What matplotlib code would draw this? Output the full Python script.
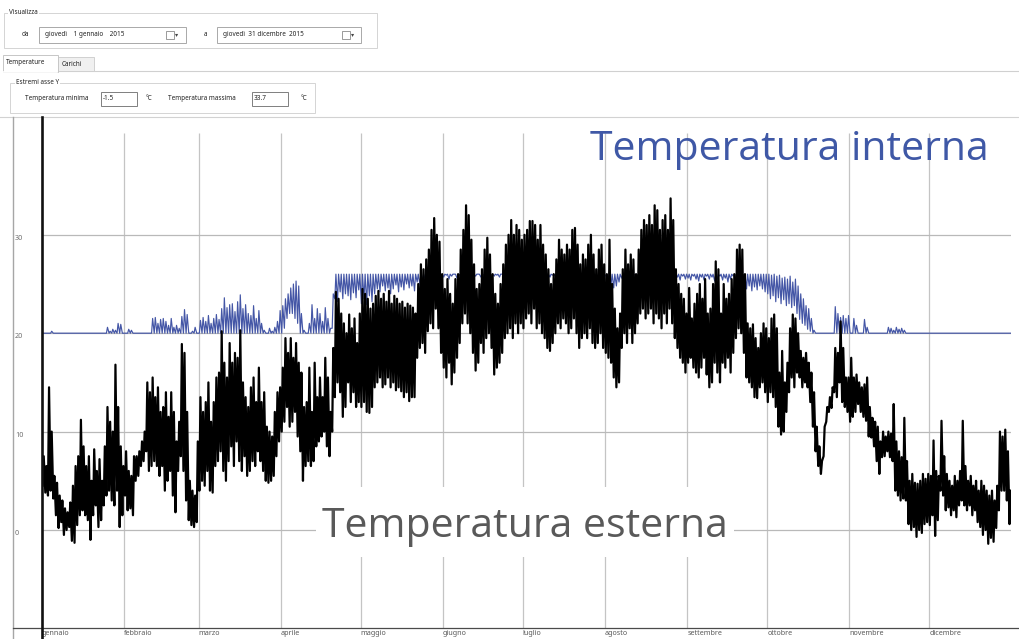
import numpy as np
import matplotlib
matplotlib.use("Agg")
import matplotlib.pyplot as plt
from matplotlib.patches import Rectangle

# ---------------------------------------------------------------- data
month_names = ["gennaio", "febbraio", "marzo", "aprile", "maggio", "giugno",
               "luglio", "agosto", "settembre", "ottobre", "novembre", "dicembre"]
month_start = [0, 31, 59, 90, 120, 151, 181, 212, 243, 273, 304, 334]
y_ticks = [0, 10, 20, 30]

# outdoor temperature, daily minimum / maximum (°C), 2015
ext_lo = (
    [4.5, 3.8, 3.5, 4.0, 3.2, 1.5, 0.2, 0.8, -0.5, 0.0, 0.3, -1.1, -1.3, 0.5, 1.5, 2.0,
     1.5, 1.0, -1.0, 1.5, 2.5, 0.3, 1.0, 2.5, 3.5, 4.0, 3.0, 2.5, 4.0, 0.3, 1.5]
    + [3.5, 2.0, 2.2, 1.5, 5.0, 5.5, 6.5, 7.0, 8.0, 6.0, 6.5, 7.0, 6.5, 5.5, 6.5, 4.0,
       5.0, 6.0, 3.5, 1.8, 6.0, 7.5, 6.0, 3.0, 1.0, 0.5, 0.3, 0.8]
    + [4.0, 5.0, 4.5, 6.0, 4.0, 3.8, 6.5, 7.0, 8.0, 6.0, 5.0, 7.0, 8.5, 6.5, 9.0, 7.0,
       6.0, 7.5, 5.5, 6.0, 7.0, 6.5, 8.0, 7.0, 6.0, 5.0, 4.8, 5.0, 5.5, 7.5, 9.0]
    + [10.0, 11.0, 12.5, 10.5, 11.0, 12.0, 9.5, 8.0, 5.0, 6.5, 7.0, 6.5, 7.0, 8.5, 9.0,
       9.5, 10.0, 8.5, 7.5, 10.0, 13.5, 15.0, 14.0, 11.5, 12.5, 15.0, 13.0, 14.0, 12.5, 13.0]
    + [12.5, 13.0, 12.0, 11.9, 12.5, 14.5, 15.0, 15.5, 14.5, 14.8, 15.5, 14.5, 15.0, 14.2,
       14.5, 14.1, 13.5, 14.0, 13.1, 13.5, 13.5, 17.5, 18.5, 19.0, 18.0, 20.2, 21.0, 20.5,
       22.5, 20.5, 18.0]
    + [16.5, 15.5, 17.0, 14.8, 16.0, 17.5, 19.0, 21.0, 22.0, 21.0, 20.0, 18.0, 16.2, 17.0,
       19.0, 18.0, 19.5, 20.0, 18.5, 15.8, 16.5, 17.0, 18.0, 19.5, 20.0, 20.5, 19.5, 21.0,
       20.0, 21.0]
    + [20.5, 21.5, 22.0, 21.0, 22.5, 20.5, 21.0, 20.0, 19.5, 18.5, 18.2, 19.0, 20.0, 21.0,
       20.5, 21.5, 21.0, 20.0, 20.5, 21.5, 20.0, 18.5, 19.5, 20.0, 19.5, 20.5, 19.0, 18.5,
       19.0, 20.0, 18.5]
    + [18.0, 17.5, 17.0, 15.5, 14.5, 15.0, 18.5, 20.0, 19.0, 20.5, 19.0, 20.0, 21.0, 22.0,
       22.5, 21.5, 22.0, 22.5, 21.0, 22.0, 21.5, 20.5, 22.0, 21.0, 22.5, 21.0, 19.5, 18.5,
       17.5, 17.0, 16.0]
    + [17.0, 17.5, 16.5, 16.0, 15.5, 16.5, 17.5, 15.8, 14.5, 15.0, 17.0, 16.0, 15.0, 17.0,
       16.5, 17.5, 16.0, 18.0, 19.5, 20.5, 20.0, 18.0, 15.5, 15.0, 14.5, 13.5, 13.4, 14.5,
       15.0, 14.0]
    + [13.0, 14.0, 13.5, 12.5, 10.5, 9.7, 10.0, 12.0, 14.0, 15.5, 14.5, 16.0, 15.5, 14.5,
       15.0, 14.5, 13.0, 10.5, 8.0, 6.5, 5.7, 7.5, 11.0, 12.0, 12.4, 14.0, 13.5, 15.0, 13.0,
       12.5, 12.0]
    + [11.0, 11.5, 12.0, 12.8, 12.0, 11.5, 11.1, 9.5, 9.4, 8.5, 7.0, 5.7, 7.4, 7.5, 8.0,
       7.4, 7.0, 4.0, 3.5, 3.0, 3.2, 3.0, 0.6, 0.0, 0.3, -0.7, 0.0, -0.3, 0.6, 0.8]
    + [0.5, 1.5, -0.6, 1.0, 4.0, 3.5, 2.0, 2.3, 1.5, 2.0, 1.3, 2.5, 3.0, 2.5, 2.0, 2.5,
       1.5, 2.0, 0.8, 0.3, -0.5, 0.0, -1.4, -0.8, -1.2, 0.2, 2.0, 4.0, 4.0, 3.0, 0.6]
)
ext_hi = (
    [7.5, 6.5, 14.5, 10.0, 5.5, 4.8, 3.5, 3.0, 2.2, 1.8, 2.8, 4.5, 6.5, 7.5, 11.2, 8.5,
     6.5, 7.5, 5.0, 8.2, 6.0, 7.2, 5.0, 8.5, 12.5, 11.0, 10.0, 16.8, 12.5, 8.5, 6.5]
    + [8.0, 6.0, 5.5, 7.5, 7.5, 8.0, 9.0, 10.0, 15.0, 14.0, 15.5, 13.5, 14.5, 12.0, 12.5,
       14.0, 11.5, 14.0, 12.0, 9.0, 11.0, 18.9, 18.0, 12.0, 5.0, 4.0, 3.5, 9.0]
    + [13.5, 12.0, 13.0, 15.0, 11.0, 13.0, 15.5, 16.0, 20.2, 17.0, 15.5, 19.0, 17.0, 18.0,
       17.5, 20.3, 15.0, 13.5, 12.5, 14.5, 15.5, 13.0, 16.5, 13.0, 14.0, 10.5, 10.0, 9.5,
       12.0, 14.0, 14.5]
    + [16.5, 19.5, 18.0, 19.5, 17.5, 19.0, 17.0, 16.0, 12.5, 13.0, 16.5, 12.0, 17.0, 13.5,
       15.5, 13.5, 17.5, 15.5, 12.0, 18.5, 24.2, 23.5, 22.0, 21.0, 20.0, 21.9, 20.5, 21.5,
       19.0, 22.0]
    + [24.5, 24.0, 23.5, 22.5, 23.0, 23.8, 24.3, 23.5, 24.0, 23.2, 24.3, 23.0, 23.8, 23.5,
       23.0, 23.2, 22.6, 23.0, 22.8, 22.6, 22.0, 25.0, 27.0, 26.5, 27.5, 28.5, 30.5, 31.7,
       30.0, 29.3, 26.0]
    + [24.5, 25.5, 24.0, 23.0, 25.5, 26.0, 28.5, 30.5, 33.0, 32.0, 29.5, 27.0, 24.5, 25.0,
       26.5, 28.5, 29.7, 28.0, 26.0, 24.0, 23.0, 25.0, 27.0, 29.0, 30.0, 31.5, 30.0, 31.0,
       30.5, 29.5]
    + [30.0, 30.5, 31.4, 31.4, 31.0, 29.5, 31.0, 29.0, 28.0, 26.5, 25.0, 26.0, 27.5, 29.5,
       28.5, 28.0, 29.0, 28.5, 30.5, 30.7, 29.0, 27.0, 28.0, 27.5, 29.0, 30.0, 28.0, 26.5,
       28.5, 29.0, 27.0]
    + [26.0, 29.5, 25.0, 22.5, 20.5, 22.0, 26.5, 28.5, 27.0, 28.0, 27.5, 26.0, 28.5, 30.5,
       31.5, 31.0, 32.0, 31.0, 33.0, 32.5, 30.5, 31.5, 32.0, 30.5, 33.7, 31.5, 26.5, 25.0,
       24.0, 23.5, 22.0]
    + [24.6, 21.5, 23.0, 24.0, 25.0, 23.5, 25.5, 22.0, 22.5, 25.0, 27.3, 26.5, 22.0, 25.0,
       23.5, 24.0, 25.5, 26.0, 28.5, 29.0, 28.5, 26.0, 21.0, 20.5, 20.9, 19.5, 18.5, 20.0,
       21.0, 20.5]
    + [19.5, 21.5, 21.9, 20.5, 16.0, 18.2, 15.0, 17.0, 20.5, 21.9, 21.5, 20.0, 18.2, 17.5,
       18.0, 17.0, 16.0, 14.0, 10.5, 8.5, 7.0, 10.5, 12.5, 13.5, 14.5, 18.5, 18.0, 21.2,
       18.5, 15.5, 15.5]
    + [17.5, 15.5, 15.8, 15.0, 14.5, 14.8, 15.5, 12.5, 11.4, 11.0, 10.5, 9.0, 10.0, 9.5,
       10.0, 9.8, 12.8, 9.0, 8.0, 7.4, 11.4, 7.0, 5.0, 5.7, 4.8, 4.7, 5.0, 5.7, 5.2, 5.7]
    + [5.5, 9.1, 6.0, 5.5, 11.1, 7.5, 5.7, 5.0, 4.5, 5.5, 5.0, 6.0, 11.1, 6.5, 5.0, 5.5,
       4.5, 5.0, 4.0, 5.0, 4.5, 4.0, 3.5, 4.0, 3.0, 4.5, 10.0, 9.5, 10.2, 8.0, 4.0]
)

# indoor temperature, daily minimum / maximum (°C)
int_lo = (
    [20.0] * 31 + [20.0] * 28 + [20.0] * 31
    + [20.0, 20.5, 21.5, 22.0, 22.0, 21.5, 21.0, 20.0, 20.0, 20.0] + [20.0] * 9 + [20.5]
    + [23.5, 23.2, 24.2, 23.5, 24.0, 23.8, 23.4, 24.1, 23.6, 24.4]
    + [23.0, 23.5, 22.9, 23.8, 23.2, 24.0, 24.5, 24.2, 24.8, 24.3, 24.6, 24.0, 24.5, 24.9,
       24.2, 24.7, 24.4, 25.0, 24.6, 24.8, 24.3, 25.2, 25.0, 25.4, 25.5, 25.2, 25.6, 25.5,
       25.7, 25.5, 25.4]
    + [25.7, 25.9, 25.5, 25.8, 26.0, 25.6, 25.9, 26.0, 25.8, 25.7, 25.9, 25.4, 25.8, 26.0,
       25.7, 25.9, 25.8, 26.0, 25.5, 25.8, 25.9, 25.7, 26.0, 25.8, 25.9, 25.6, 26.0, 25.8,
       25.9, 25.7]
    + [25.8, 26.0, 25.9, 25.6, 26.0, 25.8, 25.9, 25.5, 25.8, 26.0, 25.7, 25.9, 25.8, 26.0,
       25.6, 25.9, 25.8, 26.0, 25.9, 25.7, 25.8, 26.0, 25.5, 25.9, 25.8, 26.0, 25.7, 25.9,
       25.8, 26.0, 25.8]
    + [25.8, 25.6, 25.0, 24.6, 24.8, 25.2, 25.6, 25.9, 25.8, 26.0, 25.7, 25.9, 25.8, 26.0,
       25.9, 25.8, 26.0, 25.9, 25.8, 26.0, 25.9, 25.8, 26.0, 25.9, 25.7, 25.8, 25.5, 25.7,
       25.4, 25.8, 25.5]
    + [25.6, 25.4, 25.8, 25.5, 25.3, 25.7, 25.4, 25.8, 25.5, 25.7, 25.3, 25.5, 25.8, 25.4,
       25.6, 25.2, 25.5, 25.8, 25.4, 25.6, 25.2, 24.9, 24.5, 24.8, 24.3, 24.7, 24.4, 24.8,
       24.5, 24.2]
    + [24.0, 23.5, 23.8, 23.2, 23.6, 23.0, 23.4, 22.8, 23.0, 22.6, 22.8, 22.0, 21.4, 21.0,
       20.8, 20.4, 20.2] + [20.0] * 14
    + [20.0] * 30 + [20.0] * 31
)
int_hi = (
    [20.0] * 3 + [20.2] + [20.0] * 20 + [20.6, 20.2, 20.4, 20.3, 21.0, 20.9, 20.0]
    + [20.0, 20.4, 20.3] + [20.0] * 7
    + [21.5, 21.6, 21.0, 21.4, 21.5, 21.2, 20.8, 21.5, 20.6, 20.8, 20.5, 21.7, 22.4, 21.9,
       20.0, 20.2, 20.6, 20.0]
    + [21.3, 21.6, 21.2, 21.8, 21.0, 21.5, 21.9, 21.4, 22.5, 23.6, 22.6, 22.9, 23.0, 22.2,
       23.2, 23.9, 22.5, 22.9, 22.0, 21.8, 22.8, 21.5, 22.3, 21.0, 20.3, 20.0, 20.5, 20.2,
       20.6, 21.2, 22.3]
    + [22.8, 23.5, 24.0, 24.6, 25.0, 25.3, 24.8, 22.0, 20.3, 20.0, 21.0, 22.9, 21.5, 22.5,
       22.0, 21.2, 22.6, 21.5, 20.5, 24.0] + [26.0] * 10
    + [26.0] * 31 + [26.0] * 30 + [26.0] * 31 + [26.0] * 31 + [26.0] * 30
    + [26.0, 25.9, 26.0, 25.8, 25.9, 25.6, 25.7, 25.5, 25.8, 25.2, 25.5, 24.8, 24.0, 23.5,
       22.8, 22.5, 21.5, 20.3] + [20.0] * 7 + [22.7, 22.0, 21.6, 21.8, 21.5, 21.8]
    + [20.0, 21.5, 20.8, 20.0, 20.0, 21.4, 20.6] + [20.0] * 7
    + [20.6, 20.5, 20.3, 20.6, 20.4, 20.5, 20.3] + [20.0] * 9
    + [20.0] * 31
)

# ---------------------------------------------------------------- layout (pixels)
W, H = 1020, 639
X_LEFT, X_RIGHT = 42, 1011.5          # day 0 .. day 365
Y_TOP, Y_BOT = 118, 628               # plot panel
Y_ZERO, PX_PER_DEG = 530, 9.84        # 0 °C line and vertical scale
Y_VGRID_TOP = 133                     # month separators start here

def deg_at(ypix):
    return (Y_ZERO - ypix) / PX_PER_DEG

UI_FONT = ["Noto Sans", "DejaVu Sans"]
BIG_FONT = ["Open Sans", "DejaVu Sans"]

fig = plt.figure(figsize=(W / 100, H / 100), dpi=100, facecolor="white")

ax = fig.add_axes([X_LEFT / W, 1 - Y_BOT / H, (X_RIGHT - X_LEFT) / W, (Y_BOT - Y_TOP) / H])
ax.set_zorder(1)
ax.patch.set_alpha(0)
ax.set_xlim(0, 365)
ax.set_ylim(deg_at(Y_BOT), deg_at(Y_TOP))
for s in ax.spines.values():
    s.set_visible(False)

# grid
ax.vlines(month_start[1:], deg_at(Y_BOT), deg_at(Y_VGRID_TOP), colors="#c4c4c4", lw=0.9, zorder=1)
ax.hlines(y_ticks, 0, 365, colors="#b9b9b9", lw=0.9, zorder=1)

# series: two samples per day (morning minimum, afternoon maximum)
days = np.arange(len(ext_lo))
t = np.empty(2 * len(days))
t[0::2] = days + 0.25
t[1::2] = days + 0.65

v_int = np.empty_like(t)
v_int[0::2] = int_lo
v_int[1::2] = int_hi
v_ext = np.empty_like(t)
v_ext[0::2] = ext_lo
v_ext[1::2] = ext_hi

ax.plot(t, v_int, color="#4456a6", lw=0.85, zorder=3)
ax.plot(t, v_ext, color="#000000", lw=1.6, zorder=4)

# axis labels
ax.set_xticks(month_start)
ax.set_xticklabels(month_names, ha="left", fontsize=5.2, color="#5a5a5a", family=UI_FONT)
ax.tick_params(axis="x", length=0, pad=1.5)
ax.set_yticks(y_ticks)
ax.set_yticklabels([str(v) for v in y_ticks], fontsize=5.2, color="#707070", family=UI_FONT)
ax.tick_params(axis="y", length=0, pad=19.4)
for lbl in ax.get_yticklabels():
    lbl.set_ha("left")
    lbl.set_va("top")

# ---------------------------------------------------------------- window chrome
ui = fig.add_axes([0, 0, 1, 1])
ui.set_zorder(2)
ui.set_xlim(0, W)
ui.set_ylim(H, 0)
ui.axis("off")

def box(x0, y0, x1, y1, ec="#d4d4d4", fc="none", lw=0.7, z=2):
    ui.add_patch(Rectangle((x0, y0), x1 - x0, y1 - y0, ec=ec, fc=fc, lw=lw, zorder=z))

def label(x, y, s, size=4.6, color="#222222", bg=False, **kw):
    ui.text(x, y, s, fontsize=size, color=color, family=UI_FONT, va="center", ha="left",
            zorder=5, bbox=dict(fc="white", ec="none", pad=0.6) if bg else None, **kw)

# "Visualizza" group
box(4, 13, 377, 48)
label(9, 13, "Visualizza", bg=True)
label(22, 34, "da")
box(39, 27, 186, 43, ec="#a9a9a9", fc="white")
label(45, 34.5, "giovedì    1 gennaio    2015")
box(166, 30.5, 174, 38.5, ec="#8a8a8a", lw=0.6)
label(175, 35, "▾", size=4.5, color="#444444")
label(204, 35, "a")
box(217, 27, 361, 43, ec="#a9a9a9", fc="white")
label(223, 34.5, "giovedì  31 dicembre  2015")
box(342, 30.5, 350, 38.5, ec="#8a8a8a", lw=0.6)
label(351, 35, "▾", size=4.5, color="#444444")

# tabs
ui.plot([58, W], [71, 71], color="#d0d0d0", lw=0.8, zorder=2)
box(58, 57, 94, 71, ec="#d0d0d0", fc="#f0f0f0")
box(3, 55, 58, 71.5, ec="#c6c6c6", fc="white")
ui.plot([3.5, 57.5], [71.5, 71.5], color="white", lw=1.2, zorder=3)
label(6, 63, "Temperature")
label(62, 64, "Carichi")

# "Estremi asse Y" group
box(10, 83, 315, 113)
label(16, 83, "Estremi asse Y", bg=True)
label(25, 99, "Temperatura minima")
box(101, 92, 137, 106, ec="#7f7f7f", fc="white")
label(103, 99, "-1.5")
label(146, 99, "°C")
label(168, 99, "Temperatura massima")
box(252, 92, 288, 106, ec="#7f7f7f", fc="white")
label(254, 99, "33.7")
label(301, 99, "°C")

# chart panel frame
ui.plot([0, W], [117, 117], color="#d2d2d2", lw=0.8, zorder=2)
ui.plot([13, 13], [117, H], color="#a6a6a6", lw=1.0, zorder=2)
ui.plot([13, W], [Y_BOT, Y_BOT], color="#4a4a4a", lw=0.9, zorder=2)
ui.plot([X_LEFT, X_LEFT], [117, H], color="#111111", lw=1.9, zorder=6)

# series captions
ui.text(590, 160, "Temperatura interna", fontsize=29.5, color="#3f58a6",
        family=BIG_FONT, va="baseline", ha="left", zorder=5)
box(316, 487, 734, 557, ec="none", fc="white", z=4)
ui.text(322, 537, "Temperatura esterna", fontsize=29.5, color="#595959",
        family=BIG_FONT, va="baseline", ha="left", zorder=5)

fig.savefig("out.png", dpi=100, facecolor="white")
